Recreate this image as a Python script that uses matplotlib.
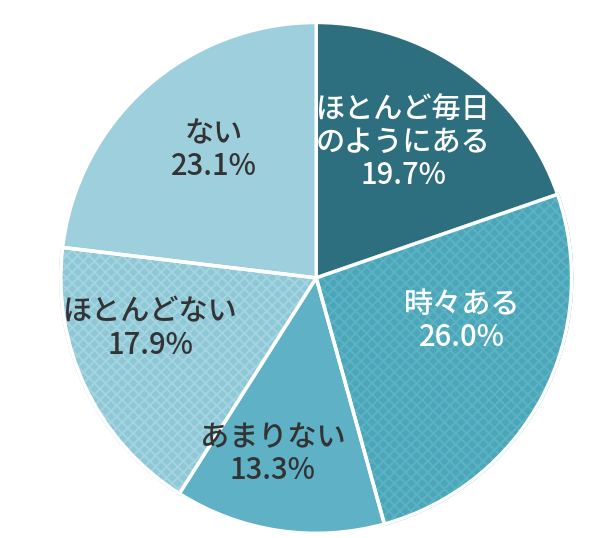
import matplotlib
matplotlib.use("Agg")
import matplotlib.pyplot as plt
import matplotlib.patches as mp

plt.rcParams['font.family'] = ['Noto Sans CJK JP', 'DejaVu Sans']
plt.rcParams['hatch.linewidth'] = 1.5

labels = ["ほとんど毎日\nのようにある", "時々ある", "あまりない", "ほとんどない", "ない"]
values = [19.7, 26.0, 13.3, 17.9, 23.1]
colors = ["#2e6f7f", "#4aa6b8", "#5fb1c6", "#8ec7d6", "#9ecfdd"]
hatches = [None, "xxx", None, "xxx", None]
hatch_colors = [None, "#5bb2c3", None, "#a3d4e0", None]
text_colors = ["white", "white", "#333333", "#333333", "#333333"]
label_pos = [(0.34, 0.53), (0.57, -0.17), (-0.17, -0.69), (-0.65, -0.2), (-0.40, 0.5)]

fig = plt.figure(figsize=(6.0, 5.38), dpi=100)
ax = fig.add_axes([0.097, 0.004, 0.86, 0.959])
wedges, _ = ax.pie(values, colors=colors, startangle=90, counterclock=False,
                   wedgeprops=dict(edgecolor="white", linewidth=2.5))
for w, h, hc in zip(wedges, hatches, hatch_colors):
    if h:
        w.set_hatch(h)
        w.set_edgecolor(hc)
        ax.add_patch(mp.Wedge(w.center, w.r, w.theta1, w.theta2, fill=False,
                              edgecolor="white", linewidth=2.5))
for lab, v, (x, y), tc in zip(labels, values, label_pos, text_colors):
    ax.text(x, y, f"{lab}\n{v:.1f}%", ha="center", va="center", color=tc,
            fontsize=21, fontweight="medium", linespacing=1.1)
ax.set_xlim(-1.01, 1.01)
ax.set_ylim(-1.01, 1.01)
ax.set_aspect("equal")
fig.savefig("out.png", dpi=100)
